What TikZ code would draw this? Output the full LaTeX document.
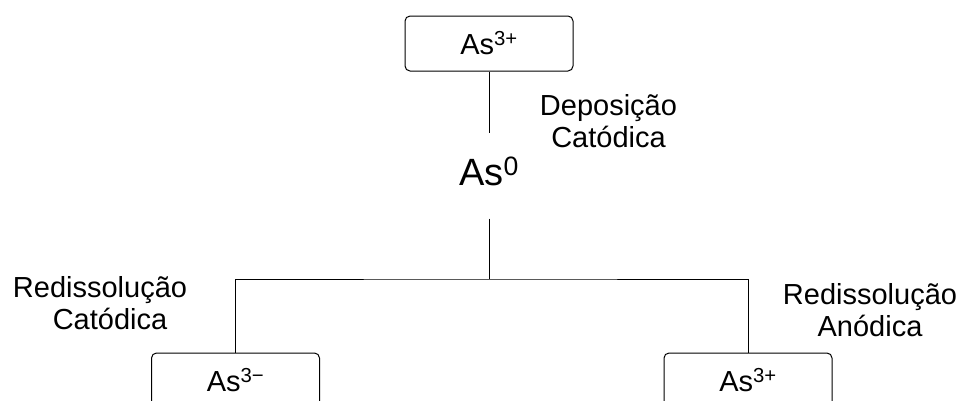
\documentclass[tikz,border=0pt]{standalone}
\usepackage{fontspec}
\setmainfont{Liberation Sans}

\tikzset{
  species/.style={draw,rounded corners=5pt,minimum width=168pt,minimum height=55pt,
    inner sep=0pt,font=\fontsize{29}{32}\selectfont},
  process/.style={align=center,inner sep=0pt,font=\fontsize{29}{32}\selectfont}
}

\begin{document}
\begin{tikzpicture}[x=1pt,y=-1pt,line width=1pt]
  \useasboundingbox (0,0) rectangle (965,400);
  \clip (0,0) rectangle (965,400);
  % species
  \node[species] (top) at (489,43.5) {As\textsuperscript{3+}};
  \node[anchor=base,inner sep=0pt,text height=52pt,text depth=33pt,
    font=\fontsize{38}{40}\selectfont] (as0) at (489,185) {As\textsuperscript{0}};
  \node[species] (lbox) at (235.5,380.5) {As\textsuperscript{3−}};
  \node[species] (rbox) at (748,380.5) {As\textsuperscript{3+}};
  % connectors
  \coordinate (split) at (489,279);
  \draw (top) -- (as0);
  \draw (as0) -- (split);
  \draw (lbox.north) |- (split) -| (rbox.north);
  % processes
  \node[process] (dep) at (608.5,121) {Deposição\\Catódica};
  \node[process] (rc) at (100,303) {Redissolução\\\hspace*{20pt}Catódica};
  \node[process] (ra) at (870,310) {Redissolução\\Anódica};
\end{tikzpicture}
\end{document}
